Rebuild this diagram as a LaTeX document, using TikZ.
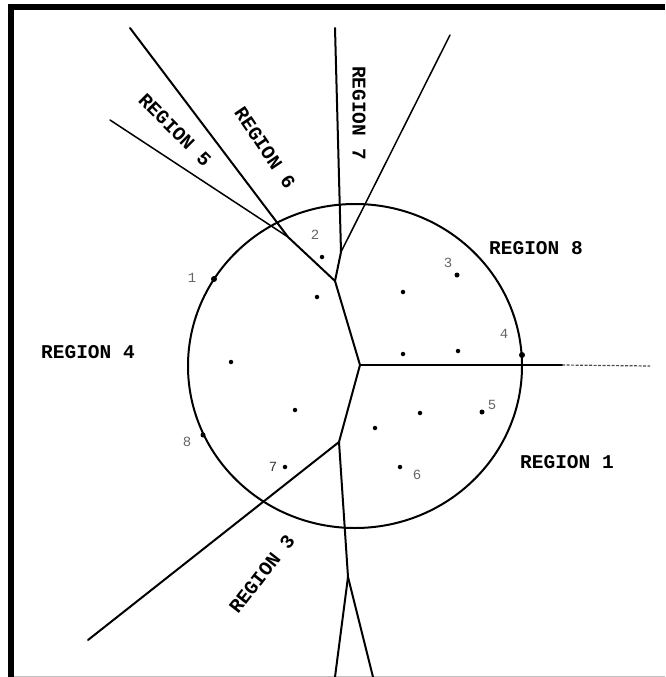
\documentclass[tikz,border=0pt]{standalone}
\usepackage{fontspec}
\setmonofont{Liberation Mono}
\newfontfamily\regfont[BoldFont={Liberation Mono Bold}]{Liberation Mono}
\begin{document}
\begin{tikzpicture}[x=1pt,y=-1pt,
  edge/.style={line width=2pt, line cap=round},
  thinedge/.style={line width=1.5pt, line cap=round},
  pt/.style={circle, fill=black, inner sep=0pt, minimum size=4.5pt},
  bigpt/.style={circle, fill=black, inner sep=0pt, minimum size=6pt},
  num/.style={font=\regfont\fontsize{14}{14}\selectfont, text=black!60, inner sep=0pt},
  reg/.style={font=\regfont\bfseries\fontsize{19.5}{20}\selectfont, inner sep=0pt}]
\useasboundingbox (0,0) rectangle (665,677);
% frame
\draw[line width=6pt, line join=miter] (665,7) -- (11,7) -- (11,677);
\draw[black!25, line width=0.8pt] (14,676) -- (665,676);
% circle
\draw[line width=2pt] (355,366) ellipse [x radius=167pt, y radius=162pt];
% junctions and free ends
\coordinate (a0) at (110,120);
\coordinate (b0) at (130,28);
\coordinate (c0) at (335,28);
\coordinate (d0) at (450,35);
\coordinate (V) at (288,237);
\coordinate (J1) at (341,252);
\coordinate (J2) at (335,281);
\coordinate (J3) at (360,365);
\coordinate (J4) at (339,442);
\coordinate (J5) at (348,577);
\coordinate (e0) at (88,640);
\coordinate (f0) at (335,677);
\coordinate (g0) at (373,677);
\coordinate (h1) at (562,365);
\coordinate (h2) at (650,366);
% edges
\draw[thinedge] (a0) -- (V);
\draw[edge] (b0) -- (V);
\draw[edge] (V) -- (J2);
\draw[edge] (c0) -- (J1);
\draw[thinedge] (d0) -- (J1);
\draw[edge] (J1) -- (J2);
\draw[edge] (J2) -- (J3);
\draw[edge] (J3) -- (h1);
\draw[black!70, line width=1.2pt, dash pattern=on 3pt off 1.5pt] (h1) -- (h2);
\draw[edge] (J3) -- (J4);
\draw[edge] (J4) -- (e0);
\draw[edge] (J4) -- (J5);
\draw[edge] (J5) -- (f0);
\draw[edge] (J5) -- (g0);
% points
\node[bigpt] (p1) at (214,279) {};
\node[pt] (p2) at (322,257) {};
\node[pt] (q1) at (317,297) {};
\node[bigpt, minimum size=5pt] (p3) at (457,275) {};
\node[pt] (q2) at (403,292) {};
\node[bigpt] (p4) at (522,355) {};
\node[pt] (q3) at (403,354) {};
\node[pt] (q4) at (458,351) {};
\node[pt] (q5) at (231,362) {};
\node[pt] (q6) at (295,410) {};
\node[pt] (q7) at (375,428) {};
\node[pt] (q8) at (420,413) {};
\node[bigpt, minimum size=5pt] (p5) at (482,412) {};
\node[pt] (p6) at (400,467) {};
\node[pt] (p7) at (285,467) {};
\node[bigpt, minimum size=5pt] (p8) at (203,435) {};
% numbers
\node[num] (n1) at (192,278) {1};
\node[num] (n2) at (315,235) {2};
\node[num] (n3) at (448,263) {3};
\node[num] (n4) at (504,334) {4};
\node[num] (n5) at (492,405) {5};
\node[num] (n6) at (417,475) {6};
\node[num, text=black!80] (n7) at (273,467) {7};
\node[num] (n8) at (187,442) {8};
% region labels
\node[reg] (r1) at (567,462) {REGION 1};
\node[reg, rotate=52] (r3) at (262,574) {REGION 3};
\node[reg] (r4) at (88,352) {REGION 4};
\node[reg, rotate=-45] (r5) at (175,130) {REGION 5};
\node[reg, rotate=-56] (r6) at (265,148) {REGION 6};
\node[reg, rotate=-90] (r7) at (359,113) {REGION 7};
\node[reg] (r8) at (536,248) {REGION 8};
\end{tikzpicture}
\end{document}
